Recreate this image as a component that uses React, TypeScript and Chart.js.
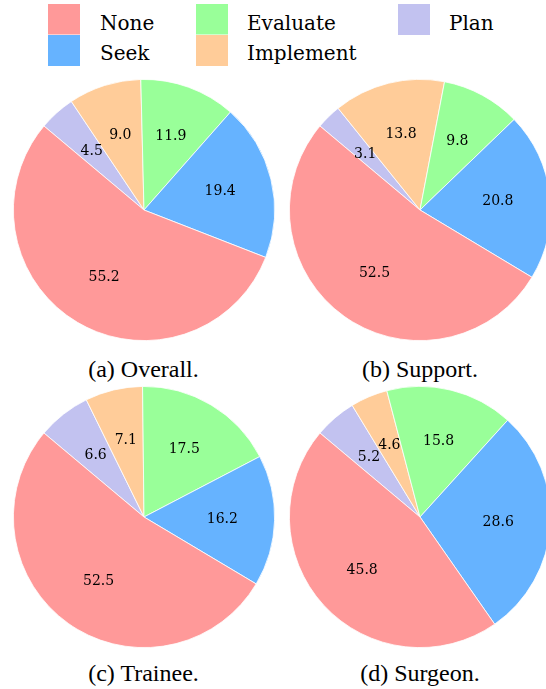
import React, { useEffect, useRef } from "react";
import { Chart, registerables } from "chart.js";

Chart.register(...registerables);

// Slice order, clockwise starting 50° left of 12 o'clock
const sliceLabels = ["Plan", "Implement", "Evaluate", "Seek", "None"];
const sliceColors = ["#c2c2f0", "#ffcc99", "#99ff99", "#66b3ff", "#ff9999"];

const overallValues = [4.5, 9.0, 11.9, 19.4, 55.2];
const supportValues = [3.1, 13.8, 9.8, 20.8, 52.5];
const traineeValues = [6.6, 7.1, 17.5, 16.2, 52.5];
const surgeonValues = [5.2, 4.6, 15.8, 28.6, 45.8];

const captions = ["(a) Overall.", "(b) Support.", "(c) Trainee.", "(d) Surgeon."];

// Legend entries, laid out column by column
const legendLabels = ["None", "Seek", "Evaluate", "Implement", "Plan"];
const legendColors = ["#ff9999", "#66b3ff", "#99ff99", "#ffcc99", "#c2c2f0"];

const SIZE = 262;
const START_ANGLE = -50;

// Writes each slice's percentage at 60% of the radius along its mid-angle
const pctLabels = {
  id: "pctLabels",
  afterDatasetsDraw(chart: any) {
    const ctx = chart.ctx;
    const meta = chart.getDatasetMeta(0);
    const values = chart.data.datasets[0].data as number[];
    ctx.save();
    ctx.font = "14px 'DejaVu Serif'";
    ctx.fillStyle = "#000";
    ctx.textAlign = "center";
    ctx.textBaseline = "middle";
    meta.data.forEach((arc: any, i: number) => {
      const mid = (arc.startAngle + arc.endAngle) / 2;
      const r = arc.outerRadius * 0.6;
      ctx.fillText(values[i].toFixed(1), arc.x + Math.cos(mid) * r, arc.y + Math.sin(mid) * r);
    });
    ctx.restore();
  },
};

function Pie({ values, left, top }: { values: number[]; left: number; top: number }) {
  const ref = useRef<HTMLCanvasElement>(null);
  useEffect(() => {
    if (!ref.current) return;
    const chart = new Chart(ref.current, {
      type: "pie",
      data: {
        labels: sliceLabels,
        datasets: [
          {
            data: values,
            backgroundColor: sliceColors,
            borderColor: "#ffffff",
            borderWidth: 0.8,
          },
        ],
      },
      options: {
        responsive: false,
        maintainAspectRatio: false,
        animation: false,
        rotation: START_ANGLE,
        layout: { padding: 0 },
        plugins: {
          legend: { display: false },
          tooltip: { enabled: false },
        },
      },
      plugins: [pctLabels],
    });
    return () => chart.destroy();
  }, [values]);
  return (
    <canvas
      ref={ref}
      width={SIZE}
      height={SIZE}
      style={{ position: "absolute", left, top, width: SIZE, height: SIZE }}
    />
  );
}

export default function App() {
  const pies = [
    { values: overallValues, left: 13, top: 79, cx: 143.5, capTop: 355 },
    { values: supportValues, left: 289, top: 79, cx: 420, capTop: 355 },
    { values: traineeValues, left: 13, top: 386, cx: 143.5, capTop: 659 },
    { values: surgeonValues, left: 289, top: 386, cx: 420, capTop: 659 },
  ];
  const legendPos = [
    { sq: 48, tx: 100, row: 0 },
    { sq: 48, tx: 100, row: 1 },
    { sq: 196, tx: 247, row: 0 },
    { sq: 196, tx: 247, row: 1 },
    { sq: 398, tx: 449, row: 0 },
  ];
  return (
    <div
      style={{
        position: "absolute",
        left: 0,
        top: 0,
        width: 546,
        height: 689,
        overflow: "hidden",
        background: "#fff",
      }}
    >
      {pies.map((p, i) => (
        <Pie key={i} values={p.values} left={p.left} top={p.top} />
      ))}
      {pies.map((p, i) => (
        <div
          key={"c" + i}
          style={{
            position: "absolute",
            left: p.cx - 100,
            width: 200,
            top: p.capTop,
            height: 28,
            lineHeight: "28px",
            textAlign: "center",
            fontFamily: "'Liberation Serif', serif",
            fontSize: 24,
            color: "#000",
            whiteSpace: "nowrap",
          }}
        >
          {captions[i]}
        </div>
      ))}
      {legendLabels.map((lab, i) => {
        const pos = legendPos[i];
        return (
          <React.Fragment key={"l" + i}>
            <div
              style={{
                position: "absolute",
                left: pos.sq,
                top: 4 + pos.row * 31,
                width: 32,
                height: 31,
                background: legendColors[i],
                boxShadow: "0 0 0 0.5px #fff",
              }}
            />
            <div
              style={{
                position: "absolute",
                left: pos.tx,
                top: 7.5 + pos.row * 30,
                height: 30,
                lineHeight: "30px",
                fontFamily: "'DejaVu Serif', serif",
                fontSize: 20,
                color: "#000",
                whiteSpace: "nowrap",
              }}
            >
              {lab}
            </div>
          </React.Fragment>
        );
      })}
    </div>
  );
}
